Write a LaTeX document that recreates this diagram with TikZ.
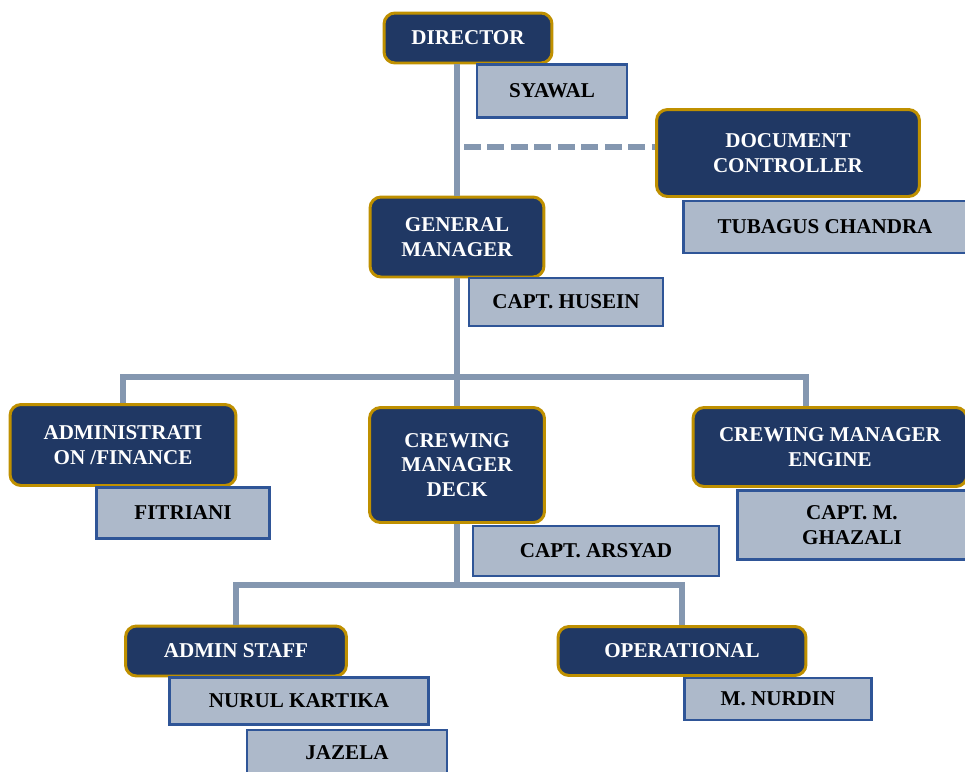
\documentclass[tikz,border=0pt]{standalone}
\usepackage{fontspec}
\setmainfont{Liberation Serif}
\usepackage{xcolor}
\usepackage{tikz}
\usetikzlibrary{positioning}

\definecolor{navy}{HTML}{203864}
\definecolor{emas}{HTML}{BF9000}
\definecolor{abu}{HTML}{ADB9CA}
\definecolor{biru}{HTML}{2F5597}
\definecolor{garisabu}{HTML}{8497B0}

\begin{document}
\begin{tikzpicture}[
        x=0.02cm, y=-0.02cm,
        jabatan/.style={rectangle, draw=emas, line width=1.7pt, fill=navy, text=white, align=center, rounded corners=0.22cm, font=\fontsize{12}{13.8}\selectfont\bfseries, inner sep=2pt},
        nama/.style={rectangle, draw=biru, line width=1.3pt, fill=abu, text=black, align=center, font=\fontsize{12}{13.8}\selectfont\bfseries, inner sep=2pt},
        garis/.style={draw=garisabu, line width=3.4pt, line join=miter}
    ]
        \useasboundingbox (0,0) rectangle (965,772);

        % Jabatan dan nama
        \node[jabatan, minimum width=3.36cm, minimum height=1.0cm] (director) at (468,38) {DIRECTOR};
        \node[nama, minimum width=3.0cm, minimum height=1.06cm] (syawal) at (552,91) {SYAWAL};
        \node[jabatan, minimum width=5.26cm, minimum height=1.74cm] (doc) at (788,153) {DOCUMENT\\CONTROLLER};
        \node[nama, minimum width=5.66cm, minimum height=1.04cm] (tubagus) at (825,227) {TUBAGUS CHANDRA};
        \node[jabatan, minimum width=3.48cm, minimum height=1.6cm] (gm) at (457,237) {GENERAL\\MANAGER};
        \node[nama, minimum width=3.88cm, minimum height=0.96cm] (husein) at (566,302) {CAPT. HUSEIN};

        \node[jabatan, minimum width=4.52cm, minimum height=1.62cm] (admfin) at (123,445) {ADMINISTRATI\\ON /FINANCE};
        \node[nama, minimum width=3.46cm, minimum height=1.02cm] (fitriani) at (183,513) {FITRIANI};
        \node[jabatan, minimum width=3.5cm, minimum height=2.3cm] (cmd) at (457,465) {CREWING\\MANAGER\\DECK};
        \node[nama, minimum width=4.92cm, minimum height=1.0cm] (arsyad) at (596,551) {CAPT. ARSYAD};
        \node[jabatan, minimum width=5.48cm, minimum height=1.58cm] (cme) at (830,447) {CREWING MANAGER\\ENGINE};
        \node[nama, minimum width=4.58cm, minimum height=1.38cm] (ghazali) at (852,525) {CAPT. M.\\GHAZALI};

        \node[jabatan, minimum width=4.42cm, minimum height=1.0cm] (staff) at (236,651) {ADMIN STAFF};
        \node[nama, minimum width=5.18cm, minimum height=0.94cm] (nurul) at (299,701) {NURUL KARTIKA};
        \node[nama, minimum width=4.0cm, minimum height=0.92cm] (jazela) at (347,753) {JAZELA};
        \node[jabatan, minimum width=4.96cm, minimum height=0.98cm] (oper) at (682,651) {OPERATIONAL};
        \node[nama, minimum width=3.74cm, minimum height=0.84cm] (nurdin) at (778,699) {M. NURDIN};

        % Garis
        \coordinate (bar1) at (457,377);
        \coordinate (bar2) at (459,585);
        \draw[garis] (gm.north) -- (gm.north |- director.south);
        \draw[garis, dash pattern=on 0.34cm off 0.13cm] ([xshift=0.14cm,yshift=0.12cm]gm.north |- doc.west) -- ([yshift=0.12cm]doc.west);
        \draw[garis] (gm.south) -- (cmd.north);
        \draw[garis] (admfin.north) |- (bar1) -| ([xshift=-0.48cm]cme.north);
        \draw[garis] (cmd.south) -- (cmd.south |- bar2);
        \draw[garis] (staff.north) |- (bar2) -| (oper.north);
    \end{tikzpicture}
\end{document}
